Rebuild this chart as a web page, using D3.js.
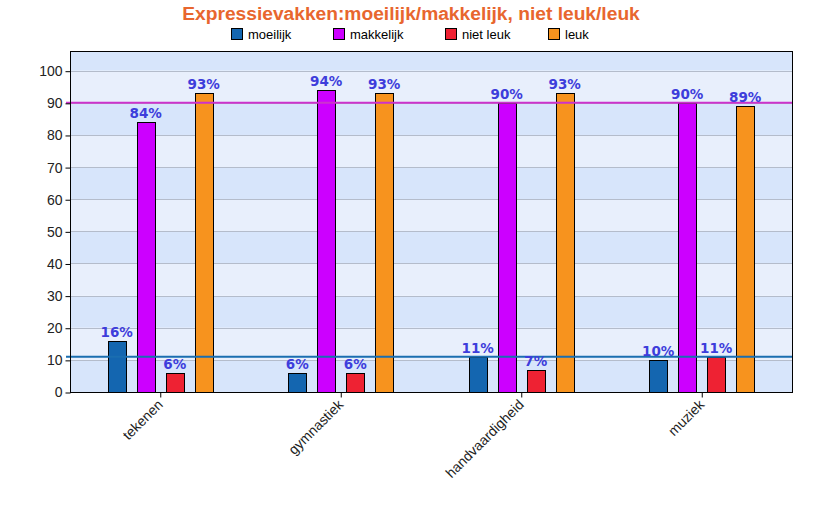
<!DOCTYPE html>
<html><head><meta charset="utf-8">
<script src="https://cdn.jsdelivr.net/npm/d3@7"></script>
<style>body{margin:0;background:#fff;}svg{display:block;}</style>
</head><body>
<script>
const categories = ["tekenen", "gymnastiek", "handvaardigheid", "muziek"];
const seriesNames = ["moeilijk", "makkelijk", "niet leuk", "leuk"];
const moeilijk = [16, 6, 11, 10];
const makkelijk = [84, 94, 90, 90];
const nietLeuk = [6, 6, 7, 11];
const leuk = [93, 93, 93, 89];
const seriesColors = ["#1466b0", "#cc00ff", "#ee2233", "#f7931e"];
const refLines = [{value: 90, color: "#cc33cc"}, {value: 11, color: "#1a6eb0"}];
const yTicks = [0, 10, 20, 30, 40, 50, 60, 70, 80, 90, 100];
const title = "Expressievakken:moeilijk/makkelijk, niet leuk/leuk";

const values = [moeilijk, makkelijk, nietLeuk, leuk];
const W = 822, H = 522;
const L = 70, R = 792, T = 51, B = 392;

const svg = d3.select("body").append("svg").attr("width", W).attr("height", H);

const y = d3.scaleLinear().domain([0, 100]).range([B, 70.7]);
const yTop = y.invert(T);
const x0 = d3.scaleBand().domain(categories).range([L, R]);
const x1 = d3.scaleBand().domain(seriesNames).range([0, 116]).paddingInner(0.38).paddingOuter(0.19);
const groupOff = (x0.bandwidth() - 116) / 2;

// background bands
const bandStarts = d3.range(0, Math.ceil(yTop), 10);
svg.append("g").selectAll("rect").data(bandStarts).join("rect")
  .attr("x", L).attr("width", R - L)
  .attr("y", d => y(Math.min(d + 10, yTop)))
  .attr("height", d => y(d) - y(Math.min(d + 10, yTop)))
  .attr("fill", d => (d / 10) % 2 === 0 ? "#d7e5fb" : "#e8effc");

// grid
svg.append("g").selectAll("line").data(yTicks.filter(d => d > 0)).join("line")
  .attr("x1", L).attr("x2", R)
  .attr("y1", d => Math.round(y(d)) + 0.5).attr("y2", d => Math.round(y(d)) + 0.5)
  .attr("stroke", "#b4bccb").attr("stroke-width", 1);

// bars
const data = [];
categories.forEach((c, i) => seriesNames.forEach((s, j) => data.push({c, s, j, v: values[j][i]})));
svg.append("g").selectAll("rect").data(data).join("rect")
  .attr("x", d => Math.round(x0(d.c) + groupOff + x1(d.s)) + 0.5)
  .attr("y", d => Math.round(y(d.v)) + 0.5)
  .attr("width", Math.round(x1.bandwidth()))
  .attr("height", d => Math.round(y(0)) - Math.round(y(d.v)))
  .attr("fill", d => seriesColors[d.j]).attr("stroke", "#000").attr("stroke-width", 1);

// reference lines
svg.append("g").selectAll("line").data(refLines).join("line")
  .attr("x1", L - 4).attr("x2", R + 1)
  .attr("y1", d => y(d.value)).attr("y2", d => y(d.value))
  .attr("stroke", d => d.color).attr("stroke-width", 2);

// value labels
svg.append("g").selectAll("text").data(data).join("text")
  .attr("x", d => x0(d.c) + groupOff + x1(d.s) + x1.bandwidth() / 2)
  .attr("y", d => y(d.v) - 4)
  .attr("text-anchor", "middle")
  .attr("font-family", "DejaVu Sans").attr("font-weight", "bold").attr("font-size", 13.5)
  .attr("fill", "#3d3ddb")
  .text(d => d.v + "%");

// plot border
svg.append("rect").attr("x", L + 0.5).attr("y", T + 0.5).attr("width", R - L).attr("height", B - T)
  .attr("fill", "none").attr("stroke", "#000");

// y axis
const yAxis = svg.append("g").attr("transform", `translate(${L + 0.5},0.5)`)
  .call(d3.axisLeft(y).tickValues(yTicks).tickSize(5).tickPadding(3).tickFormat(d3.format("d")));
yAxis.select(".domain").remove();
yAxis.selectAll("text").attr("font-family", "Liberation Sans, Arial").attr("font-size", 14).attr("fill", "#222");

// x axis
const xAxis = svg.append("g").attr("transform", `translate(0.5,${B + 0.5})`)
  .call(d3.axisBottom(x0).tickSize(5).tickSizeOuter(0));
xAxis.select(".domain").remove();
xAxis.selectAll("text")
  .attr("font-family", "Liberation Sans, Arial").attr("font-size", 14).attr("fill", "#222")
  .attr("text-anchor", "end").attr("dy", 0).attr("y", 0)
  .attr("transform", "translate(3,13) rotate(-45)");

// title
svg.append("text").attr("x", W / 2).attr("y", 20).attr("text-anchor", "middle")
  .attr("font-family", "Liberation Sans, Arial").attr("font-weight", "bold").attr("font-size", 19.2)
  .attr("fill", "#e8662e").text(title);

// legend
const legendX = [231, 333, 445, 548];
const lg = svg.append("g").selectAll("g").data(seriesNames).join("g")
  .attr("transform", (d, i) => `translate(${legendX[i]},28)`);
lg.append("rect").attr("x", 0.5).attr("y", 0.5).attr("width", 11).attr("height", 11)
  .attr("fill", (d, i) => seriesColors[i]).attr("stroke", "#000");
lg.append("text").attr("x", 17).attr("y", 10.5)
  .attr("font-family", "Liberation Sans, Arial").attr("font-size", 13).attr("fill", "#000")
  .text(d => d);
</script>
</body></html>
